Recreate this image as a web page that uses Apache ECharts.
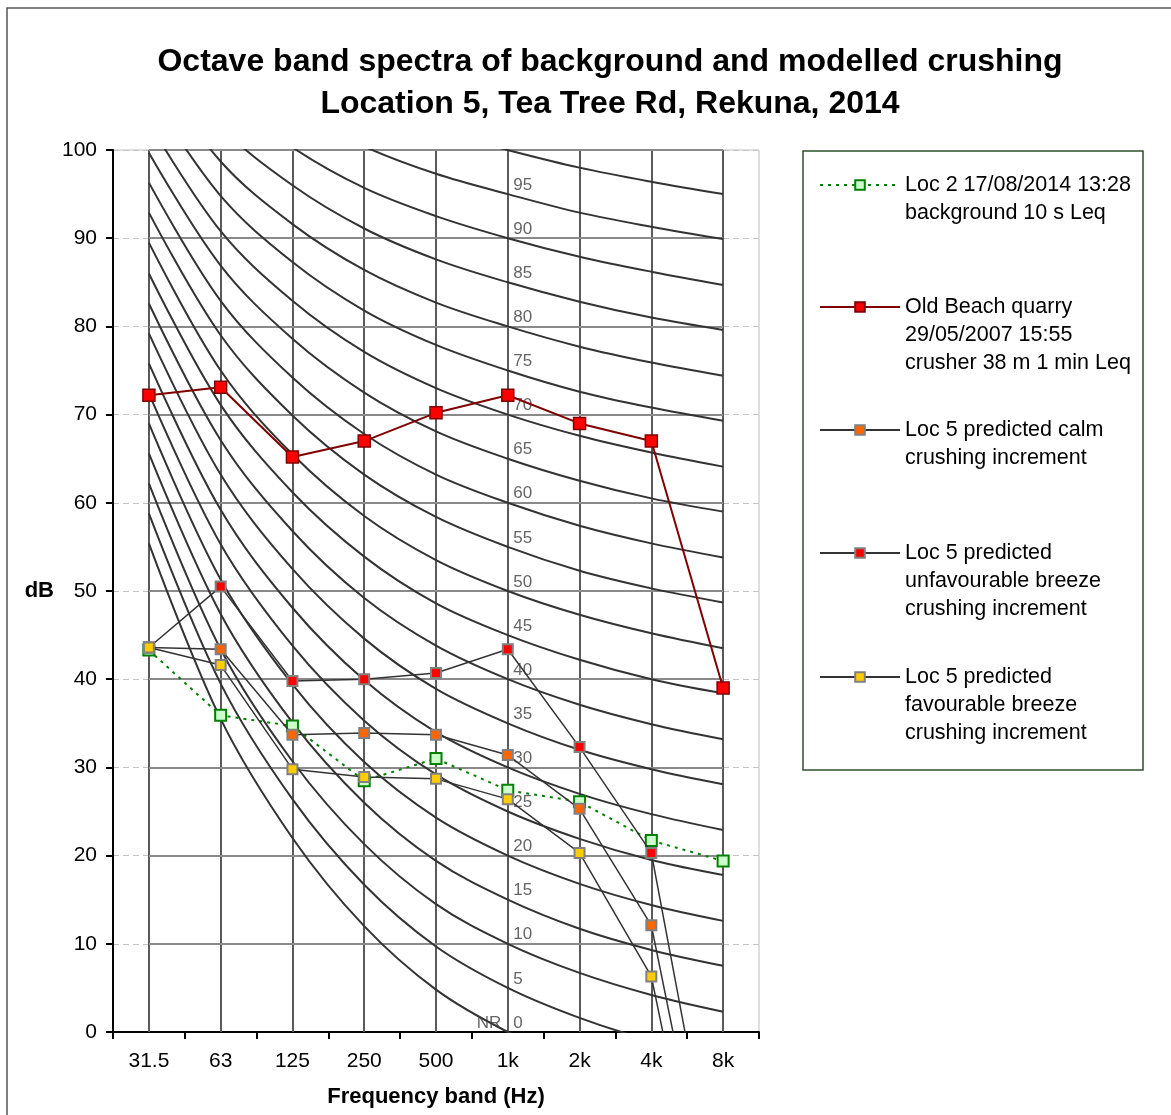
<!DOCTYPE html>
<html>
<head>
<meta charset="utf-8">
<title>Octave band spectra – Location 5, Tea Tree Rd, Rekuna</title>
<script src="https://cdn.jsdelivr.net/npm/echarts@6/dist/echarts.min.js"></script>
<style>
  html, body { margin: 0; padding: 0; background: #fff; }
  #chart { width: 1171px; height: 1115px; }
</style>
</head>
<body>
<div id="chart"></div>
<script>
// Octave band centre frequencies (category axis)
const BANDS = ['31.5', '63', '125', '250', '500', '1k', '2k', '4k', '8k'];

// Measured / modelled octave band levels, dB
const LOC2_BACKGROUND   = [43.3, 35.9, 34.7, 28.5, 31.0, 27.4, 26.1, 21.7, 19.4];
const OLD_BEACH_CRUSHER = [72.2, 73.1, 65.2, 67.0, 70.2, 72.2, 69.0, 67.0, 39.0];
const LOC5_CALM         = [43.6, 43.4, 33.7, 33.9, 33.7, 31.4, 25.3, 12.1, -28];
const LOC5_UNFAVOURABLE = [43.6, 50.5, 39.8, 40.0, 40.7, 43.4, 32.3, 20.3, -23];
const LOC5_FAVOURABLE   = [43.6, 41.6, 29.8, 28.9, 28.7, 26.4, 20.3, 6.3, -33];

// Series names as shown in the legend
const NAME_LOC2   = 'Loc 2 17/08/2014 13:28\nbackground 10 s Leq';
const NAME_OLD    = 'Old Beach quarry\n29/05/2007 15:55\ncrusher 38 m 1 min Leq';
const NAME_CALM   = 'Loc 5 predicted calm\ncrushing increment';
const NAME_UNFAV  = 'Loc 5 predicted\nunfavourable breeze\ncrushing increment';
const NAME_FAV    = 'Loc 5 predicted\nfavourable breeze\ncrushing increment';

// Noise Rating (NR) curve sheet printed behind the data: level at each band
const NR_LEVELS = [0, 5, 10, 15, 20, 25, 30, 35, 40, 45, 50, 55, 60, 65, 70, 75, 80, 85, 90, 95, 100];
const NR_TABLE = [
  [55.4, 35.5, 22.0, 12.0,  4.8,   0, -3.5, -6.1, -8.0],
  [58.8, 39.5, 26.4, 16.7,  9.7,   5,  1.6, -1.0, -2.9],
  [62.2, 43.4, 30.7, 21.3, 14.5,  10,  6.7,  4.2,  2.3],
  [65.6, 47.4, 35.1, 26.0, 19.4,  15, 11.7,  9.3,  7.5],
  [69.0, 51.3, 39.4, 30.6, 24.3,  20, 16.8, 14.4, 12.6],
  [72.4, 55.3, 43.8, 35.3, 29.2,  25, 21.9, 19.5, 17.8],
  [75.8, 59.2, 48.1, 39.9, 34.0,  30, 27.0, 24.7, 22.9],
  [79.2, 63.2, 52.5, 44.6, 38.9,  35, 32.0, 29.8, 28.1],
  [82.6, 67.1, 56.8, 49.2, 43.8,  40, 37.1, 34.9, 33.2],
  [86.0, 71.1, 61.2, 53.9, 48.6,  45, 42.2, 40.0, 38.4],
  [89.5, 75.0, 65.5, 58.5, 53.5,  50, 47.3, 45.2, 43.5],
  [92.9, 79.0, 69.9, 63.2, 58.4,  55, 52.3, 50.3, 48.7],
  [96.3, 82.9, 74.2, 67.8, 63.2,  60, 57.4, 55.4, 53.8],
  [99.7, 86.9, 78.6, 72.5, 68.1,  65, 62.5, 60.5, 59.0],
  [103.1, 90.8, 82.9, 77.1, 73.0, 70, 67.6, 65.7, 64.1],
  [106.5, 94.8, 87.3, 81.8, 77.9, 75, 72.6, 70.8, 69.3],
  [109.9, 98.7, 91.6, 86.4, 82.7, 80, 77.7, 75.9, 74.4],
  [113.3, 102.7, 96.0, 91.1, 87.6, 85, 82.8, 81.0, 79.6],
  [116.7, 106.6, 100.3, 95.7, 92.5, 90, 87.9, 86.2, 84.7],
  [120.1, 110.6, 104.7, 100.4, 97.3, 95, 92.9, 91.3, 89.9],
  [123.5, 114.5, 109.0, 105.0, 102.2, 100, 98.0, 96.4, 95.0]
];
// Horizontal rulings of the NR sheet, dB
const SHEET_RULES_DB = [10, 20, 30, 40, 50, 60, 70, 80, 90, 100];
// Y axis tick labels
const Y_TICKS = [0, 10, 20, 30, 40, 50, 60, 70, 80, 90, 100];

const FONT = '"Liberation Sans", Arial, Helvetica, sans-serif';
const LABEL_BAND = BANDS.indexOf('1k');

// NR curves: thick dark lines behind everything
const nrSeries = NR_LEVELS.map((lvl, i) => ({
  type: 'line',
  name: 'NR ' + lvl,
  data: NR_TABLE[i],
  smooth: 0.35,
  symbol: 'none',
  silent: true,
  z: 1,
  lineStyle: { color: '#333333', width: 2 }
}));

// Vertical rulings of the sheet at each band centre
nrSeries[0].markLine = {
  z: 1, silent: true, symbol: ['none', 'none'], label: { show: false },
  lineStyle: { color: '#5a5a5a', width: 2, type: 'solid' },
  data: BANDS.map(b => ({ xAxis: b }))
};
// Horizontal rulings of the sheet, spanning 31.5 Hz to 8 kHz
nrSeries[1].markLine = {
  z: 1, silent: true, symbol: ['none', 'none'], label: { show: false },
  lineStyle: { color: '#8a8a8a', width: 2, type: 'solid' },
  data: SHEET_RULES_DB.map(v => [{ coord: [BANDS[0], v] }, { coord: [BANDS[BANDS.length - 1], v] }])
};

// NR curve numbers printed beside the 1 kHz ruling
const nrLabelSeries = {
  type: 'scatter',
  silent: true,
  clip: false,
  z: 2,
  symbolSize: 1,
  itemStyle: { color: 'rgba(0,0,0,0)' },
  data: NR_LEVELS.filter(l => l < 100).map(l => [BANDS[LABEL_BAND], NR_TABLE[NR_LEVELS.indexOf(l)][LABEL_BAND]]),
  label: {
    show: true, position: 'right', distance: 5, offset: [0, -9],
    formatter: p => String(p.value[1]),
    color: '#3d3d3d', fontSize: 17, fontFamily: FONT
  }
};
const nrPrefixSeries = {
  type: 'scatter',
  silent: true,
  clip: false,
  z: 2,
  symbolSize: 1,
  itemStyle: { color: 'rgba(0,0,0,0)' },
  data: [[BANDS[LABEL_BAND], NR_TABLE[0][LABEL_BAND]]],
  label: {
    show: true, position: 'left', distance: 6, offset: [0, -9],
    formatter: 'NR', color: '#3d3d3d', fontSize: 17, fontFamily: FONT
  }
};

function loc5(name, values, fill) {
  return {
    type: 'line', name: name, data: values, z: 4,
    symbol: 'rect', symbolSize: 10,
    lineStyle: { color: '#333333', width: 1.5 },
    itemStyle: { color: fill, borderColor: '#808080', borderWidth: 2 }
  };
}

const dataSeries = [
  {
    type: 'line', name: NAME_LOC2, data: LOC2_BACKGROUND, z: 3,
    symbol: 'rect', symbolSize: 11,
    lineStyle: { color: '#008000', width: 2, type: [3, 5] },
    itemStyle: { color: '#ccffcc', borderColor: '#008000', borderWidth: 2 }
  },
  {
    type: 'line', name: NAME_OLD, data: OLD_BEACH_CRUSHER, z: 4,
    symbol: 'rect', symbolSize: 12,
    lineStyle: { color: '#800000', width: 2 },
    itemStyle: { color: '#ff0000', borderColor: '#800000', borderWidth: 1.5 }
  },
  loc5(NAME_CALM, LOC5_CALM, '#ff6600'),
  loc5(NAME_UNFAV, LOC5_UNFAVOURABLE, '#ff0000'),
  loc5(NAME_FAV, LOC5_FAVOURABLE, '#ffcc00')
];

// One legend block per entry; leading blank lines keep the icon on the first text line
const LEGEND_LINE_H = 28;
const legendEntries = [
  { name: NAME_LOC2,  iconY: 185 },
  { name: NAME_OLD,   iconY: 307 },
  { name: NAME_CALM,  iconY: 430 },
  { name: NAME_UNFAV, iconY: 553 },
  { name: NAME_FAV,   iconY: 677 }
];
const legends = legendEntries.map(e => {
  const lines = e.name.split('\n').length;
  const blockH = (2 * lines - 1) * LEGEND_LINE_H;
  return {
    data: [e.name],
    left: 819,
    top: e.iconY - blockH / 2,
    orient: 'vertical',
    padding: 0,
    itemWidth: 80,
    itemHeight: 12,
    selectedMode: false,
    formatter: name => '\n'.repeat(lines - 1) + name,
    textStyle: {
      fontSize: 21.5, fontFamily: FONT, color: '#000', lineHeight: LEGEND_LINE_H
    }
  };
});

const option = {
  animation: false,
  backgroundColor: '#ffffff',
  title: {
    text: 'Octave band spectra of background and modelled crushing\nLocation 5, Tea Tree Rd, Rekuna, 2014',
    left: 610, top: 41, textAlign: 'center', padding: 0,
    textStyle: { fontSize: 32, fontWeight: 'bold', color: '#000', lineHeight: 42, fontFamily: FONT }
  },
  legend: legends,
  grid: {
    left: 113, right: 412, top: 150, bottom: 83,
    show: true, borderColor: '#bfbfbf', borderWidth: 1, backgroundColor: 'transparent',
    containLabel: false, outerBoundsMode: 'none'
  },
  xAxis: {
    type: 'category', data: BANDS, boundaryGap: true,
    name: 'Frequency band (Hz)', nameLocation: 'middle', nameGap: 54,
    nameTextStyle: { fontSize: 22, fontWeight: 'bold', color: '#000', fontFamily: FONT },
    axisLine: { show: true, lineStyle: { color: '#000', width: 2 } },
    axisTick: { show: true, length: 7, lineStyle: { color: '#000', width: 2 } },
    axisLabel: { fontSize: 21, color: '#000', margin: 19, fontFamily: FONT },
    splitLine: { show: false }
  },
  yAxis: {
    type: 'value', min: Y_TICKS[0], max: Y_TICKS[Y_TICKS.length - 1], interval: Y_TICKS[1] - Y_TICKS[0],
    name: 'dB', nameLocation: 'middle', nameRotate: 0, nameGap: 59,
    nameTextStyle: { fontSize: 22, fontWeight: 'bold', color: '#000', fontFamily: FONT },
    axisLine: { show: true, lineStyle: { color: '#000', width: 2 } },
    axisTick: { show: true, length: 7, lineStyle: { color: '#000', width: 2 } },
    axisLabel: { fontSize: 21, color: '#000', margin: 16, fontFamily: FONT },
    splitLine: { show: true, lineStyle: { color: '#c4c4c4', width: 1, type: [6, 4] } }
  },
  graphic: [
    {
      type: 'rect', silent: true, z: 0,
      shape: { x: 7, y: 8, width: 1200, height: 1200 },
      style: { fill: 'none', stroke: '#555555', lineWidth: 1.5 }
    },
    {
      type: 'rect', silent: true, z: 0,
      shape: { x: 803, y: 151, width: 340, height: 619 },
      style: { fill: 'none', stroke: '#2b4f2b', lineWidth: 1.5 }
    }
  ],
  series: [...nrSeries, nrLabelSeries, nrPrefixSeries, ...dataSeries]
};

const chart = echarts.init(document.getElementById('chart'), null, { renderer: 'canvas' });
chart.setOption(option);
</script>
</body>
</html>
